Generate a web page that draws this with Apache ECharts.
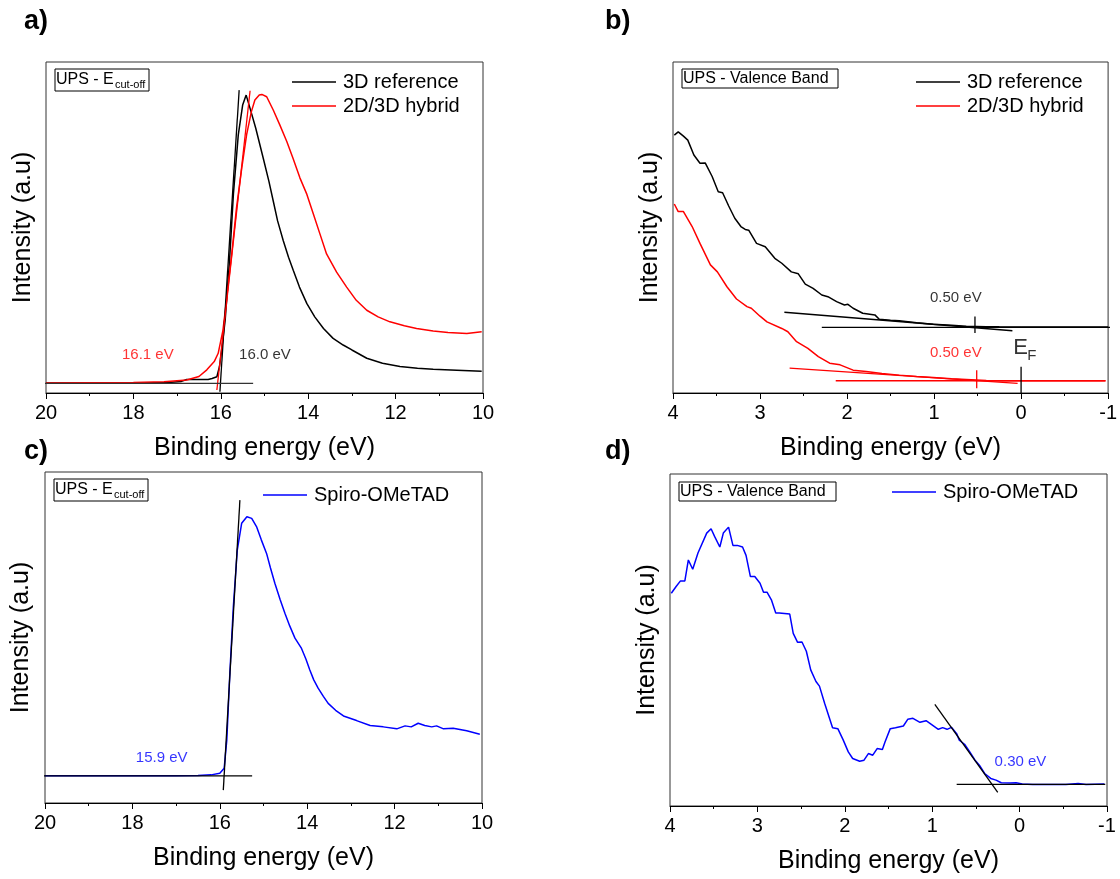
<!DOCTYPE html>
<html><head><meta charset="utf-8">
<script src="https://cdn.jsdelivr.net/npm/echarts@6/dist/echarts.min.js"></script>
<style>html,body{margin:0;padding:0;background:#fff}#c{width:1120px;height:879px}</style>
</head><body><div id="c"></div><script>
// ---------- data (binding energy eV, intensity a.u. 0-100) ----------
const aRef = [[20,3.0],[19,3.0],[18,3.1],[17.2,3.2],[16.9,3.5],[16.78,4.1],[16.5,4.1],[16.29,4.1],[16.2,4.4],[16.09,4.9],[16.03,8],[15.98,13],[15.9,22],[15.8,40],[15.71,60.4],[15.6,78],[15.5,87],[15.42,90],[15.33,86],[15.2,80],[15.03,71],[14.9,64],[14.8,58],[14.7,52],[14.57,46],[14.45,41],[14.34,37],[14.2,32],[14.03,27],[13.85,23],[13.65,19.5],[13.43,16.5],[13.2,14.5],[13.0,13],[12.66,10.5],[12.3,9],[11.9,8],[11.5,7.5],[11.14,7.2],[10.6,6.9],[10.03,6.6]];
const aHyb = [[20,3.0],[19,3.1],[18,3.2],[17.3,3.4],[16.78,3.9],[16.5,5.0],[16.32,7.0],[16.15,9.5],[16.06,12],[15.95,19],[15.87,28],[15.75,42],[15.64,56],[15.52,68],[15.41,78],[15.3,85],[15.22,88.5],[15.12,90],[15.06,90.2],[14.95,89.5],[14.8,85.5],[14.65,81],[14.49,76],[14.35,71],[14.19,65],[14.03,60],[13.88,54],[13.73,48],[13.58,42],[13.35,36.5],[13.12,32],[12.9,28],[12.66,25],[12.4,23],[12.13,21.5],[11.8,20.3],[11.52,19.5],[11.14,18.7],[10.8,18.3],[10.37,18.0],[10.03,18.5]];
const aRefTangent = [[15.58,91.5],[16.02,0.4]];
const aHybTangent = [[15.33,91.3],[16.09,0.9]];
const aBaseline = [[20.07,2.9],[15.26,2.9]];

const bRef = [[3.985,77.9],[3.94,78.9],[3.88,77.6],[3.83,76.4],[3.76,71.9],[3.69,69.4],[3.63,69.5],[3.55,65.4],[3.48,60.8],[3.43,60.5],[3.36,56.5],[3.29,52.8],[3.22,50.3],[3.17,49.4],[3.13,49.2],[3.04,45.2],[2.94,44.2],[2.83,40.7],[2.75,39.2],[2.64,36.6],[2.56,36.0],[2.48,32.9],[2.39,31.6],[2.29,29.6],[2.22,29.1],[2.12,27.6],[2.03,26.6],[1.99,26.8],[1.93,25.6],[1.82,24.1],[1.68,23.6],[1.63,22.3],[1.5,22.0],[1.40,21.8],[1.2,21.2],[1.01,20.8],[0.8,20.5],[0.63,20.2],[0.4,20.05],[0.25,20.0],[0,19.95],[-0.5,19.95],[-1.0,19.95]];
const bHyb = [[3.985,57.1],[3.94,54.8],[3.88,54.8],[3.78,50.3],[3.69,45.2],[3.57,38.7],[3.49,36.6],[3.38,32.1],[3.27,28.4],[3.15,26.1],[3.10,25.6],[3.0,23.2],[2.92,21.5],[2.75,19.5],[2.68,18.5],[2.58,15.5],[2.45,13.5],[2.33,11.0],[2.2,9.0],[2.08,8.5],[1.93,6.9],[1.78,6.5],[1.6,5.9],[1.4,5.4],[1.2,5.0],[1.01,4.7],[0.8,4.3],[0.63,4.1],[0.4,3.8],[0.25,3.7],[0,3.7],[-0.5,3.7],[-0.97,3.7]];
const bRefTangent = [[2.72,24.4],[0.10,18.8]];
const bRefBaseline = [[2.29,19.8],[-1.05,19.8]];
const bRefMarker = [[0.53,23.1],[0.53,18.1]];
const bHybTangent = [[2.66,7.5],[0.04,2.9]];
const bHybBaseline = [[2.13,3.7],[-0.97,3.7]];
const bHybMarker = [[0.51,6.9],[0.51,1.4]];
const bFermi = [[0,7.9],[0,0]];

const cSpiro = [[20,8.2],[19,8.2],[18,8.2],[17,8.2],[16.5,8.3],[16.2,8.5],[16.0,9.0],[15.9,10.5],[15.84,19],[15.77,39.2],[15.69,59.3],[15.6,76.4],[15.5,84.5],[15.38,86.5],[15.27,86.0],[15.16,83.5],[15.05,79.5],[14.93,75.4],[14.84,71],[14.74,66.4],[14.62,61.5],[14.51,57.3],[14.4,53.5],[14.28,49.8],[14.13,46.7],[14.03,43.5],[13.94,40.2],[13.85,37.2],[13.75,34.7],[13.63,32.2],[13.52,30.1],[13.35,28],[13.17,26.3],[12.87,24.9],[12.56,23.4],[12.26,23.0],[11.95,22.4],[11.76,23.3],[11.62,23.0],[11.46,24.1],[11.31,23.4],[11.15,23.0],[11.04,23.3],[10.88,22.4],[10.66,22.6],[10.35,21.8],[10.05,20.8]];
const cTangent = [[15.54,91.5],[15.92,3.9]];
const cBaseline = [[20.07,8.2],[15.26,8.2]];

const dSpiro = [[3.985,64.1],[3.93,66.1],[3.88,67.8],[3.83,67.8],[3.79,74.1],[3.74,71.3],[3.68,76.2],[3.58,82.2],[3.53,83.5],[3.49,81.2],[3.43,78.0],[3.39,82.2],[3.33,84.0],[3.28,78.5],[3.23,78.5],[3.17,78.0],[3.13,75.5],[3.08,69.1],[3.03,69.1],[2.97,67.1],[2.93,64.4],[2.89,64.4],[2.84,62.1],[2.79,58.1],[2.75,58.1],[2.63,57.8],[2.59,52.0],[2.54,49.3],[2.49,49.4],[2.44,46.6],[2.39,41.0],[2.33,37.5],[2.29,36.1],[2.23,30.9],[2.14,23.6],[2.08,23.3],[2.02,20.0],[1.96,16.3],[1.91,14.3],[1.83,13.5],[1.78,13.8],[1.73,15.8],[1.68,15.3],[1.63,17.3],[1.57,17.0],[1.54,19.3],[1.48,23.3],[1.42,23.6],[1.33,24.1],[1.28,26.1],[1.22,26.4],[1.14,25.2],[1.07,25.7],[1.01,24.6],[0.93,23.1],[0.88,23.6],[0.83,23.1],[0.78,23.7],[0.72,21.8],[0.69,19.8],[0.63,18.6],[0.57,16.3],[0.51,13.8],[0.46,12.3],[0.40,9.8],[0.33,8.3],[0.27,7.8],[0.21,7.0],[0.11,6.9],[0.04,7.0],[-0.03,6.6],[-0.15,6.5],[-0.34,6.5],[-0.53,6.5],[-0.67,6.8],[-0.76,6.5],[-0.97,6.6]];
const dTangent = [[0.97,30.6],[0.25,4.1]];
const dBaseline = [[0.72,6.5],[-0.98,6.5]];

const xTicksCutoff = {min:10, max:20, interval:2};
const xTicksVB = {min:-1, max:4, interval:1};

// annotation texts: [x, y, text]
const aNotes = [[17.67,11.5,'16.1 eV','#ff0000'],[14.99,11.5,'16.0 eV','#000000']];
const bNotes = [[0.75,28.8,'0.50 eV','#000000'],[0.75,12.2,'0.50 eV','#ff0000']];
const cNotes = [[17.33,13.7,'15.9 eV','#0000ff']];
const dNotes = [[-0.01,13.4,'0.30 eV','#0000ff']];
const fermiLabel = [[0.09,13.6,'E'],[-0.07,11.2,'F']];

// ---------- chart ----------
const FF = '"Liberation Sans", Arial, sans-serif';
const RED = '#ff0000', BLK = '#000000', BLU = '#0000ff';
const grids = [
  {left:46, top:62, width:437, height:331},
  {left:673, top:62, width:436, height:331},
  {left:45, top:472, width:437, height:331},
  {left:670, top:474, width:437, height:332}
].map(g => Object.assign({show:true, borderColor:'#333', borderWidth:1, backgroundColor:'transparent', containLabel:false}, g));

function xAx(gi, t, gap) {
  return {type:'value', gridIndex:gi, min:t.min, max:t.max, interval:t.interval, inverse:true,
    name:'Binding energy (eV)', nameLocation:'middle', nameGap:gap,
    nameTextStyle:{fontSize:25, color:'#000', fontFamily:FF},
    axisLine:{show:true, onZero:false, lineStyle:{color:'#000', width:1}},
    axisTick:{show:true, inside:false, length:6, lineStyle:{color:'#000'}},
    minorTick:{show:true, splitNumber:2, length:3, lineStyle:{color:'#000'}},
    axisLabel:{fontSize:20, color:'#000', margin:10, fontFamily:FF},
    splitLine:{show:false}, minorSplitLine:{show:false}};
}
function yAx(gi, gap) {
  return {type:'value', gridIndex:gi, min:0, max:100,
    name:'Intensity (a.u)', nameLocation:'middle', nameGap:gap,
    nameTextStyle:{fontSize:25, color:'#000', fontFamily:FF},
    axisLine:{show:false, onZero:false}, axisTick:{show:false}, axisLabel:{show:false}, splitLine:{show:false}};
}
function curve(name, gi, data, color) {
  return {type:'line', name:name, xAxisIndex:gi, yAxisIndex:gi, data:data, symbol:'none', showSymbol:false,
    lineStyle:{color:color, width:1.5}, itemStyle:{color:color}, animation:false, silent:true};
}
function guide(gi, data, color) {
  return {type:'line', xAxisIndex:gi, yAxisIndex:gi, data:data, symbol:'none', showSymbol:false, clip:false,
    lineStyle:{color:color, width:1.3}, itemStyle:{color:color}, animation:false, silent:true, z:3};
}
function notes(gi, arr, size) {
  return {type:'scatter', xAxisIndex:gi, yAxisIndex:gi, symbolSize:1, itemStyle:{color:'transparent'}, silent:true, animation:false,
    data: arr.map(n => ({value:[n[0], n[1]], label:{show:true, position:'inside', formatter:n[2], color:n[3], fontSize:size || 15, fontFamily:FF}}))};
}

const series = [
  curve('3D reference', 0, aRef, BLK), curve('2D/3D hybrid', 0, aHyb, RED),
  guide(0, aRefTangent, BLK), guide(0, aHybTangent, RED), guide(0, aBaseline, '#333'),
  notes(0, aNotes),
  curve('3D reference', 1, bRef, BLK), curve('2D/3D hybrid', 1, bHyb, RED),
  guide(1, bRefTangent, BLK), guide(1, bRefBaseline, BLK), guide(1, bRefMarker, BLK),
  guide(1, bHybTangent, RED), guide(1, bHybBaseline, RED), guide(1, bHybMarker, RED), guide(1, bFermi, BLK),
  notes(1, bNotes),
  {type:'scatter', xAxisIndex:1, yAxisIndex:1, symbolSize:1, itemStyle:{color:'transparent'}, silent:true, animation:false,
   data: fermiLabel.map((n, i) => ({value:[n[0], n[1]], label:{show:true, position:'inside', align:'left', formatter:n[2], color:'#000', fontSize: i === 0 ? 22 : 15, fontFamily:FF}}))},
  curve('Spiro-OMeTAD', 2, cSpiro, BLU),
  guide(2, cTangent, BLK), guide(2, cBaseline, BLK),
  notes(2, cNotes),
  curve('Spiro-OMeTAD', 3, dSpiro, BLU),
  guide(3, dTangent, BLK), guide(3, dBaseline, BLK),
  notes(3, dNotes)
];

function legend(left, top, names) {
  return {show:true, left:left, top:top, orient:'vertical', data:names, selectedMode:false,
    icon:'rect', itemWidth:44, itemHeight:1.5, itemGap:4,
    textStyle:{fontSize:20, color:'#000', fontFamily:FF, padding:[0,0,0,2]}};
}

function box(x, y, w, h, main, sub) {
  const els = [{type:'rect', shape:{x:x, y:y, width:w, height:h}, style:{fill:'none', stroke:'#000', lineWidth:1}, z:10},
    {type:'text', x:x+1, y:y+h/2, style:{text:main, fontSize:16, fontFamily:FF, fill:'#000', textVerticalAlign:'middle', verticalAlign:'middle'}, z:10}];
  if (sub) els.push({type:'text', x:x+60, y:y+h/2+5, style:{text:sub, fontSize:11, fontFamily:FF, fill:'#000', textVerticalAlign:'middle', verticalAlign:'middle'}, z:10});
  return els;
}
function panelLabel(x, y, t) {
  return {type:'text', x:x, y:y, style:{text:t, fontSize:27, fontWeight:'bold', fontFamily:FF, fill:'#000', textVerticalAlign:'middle', verticalAlign:'middle'}};
}

const option = {
  backgroundColor:'#fff',
  animation:false,
  grid: grids,
  xAxis: [xAx(0, xTicksCutoff, 43), xAx(1, xTicksVB, 43), xAx(2, xTicksCutoff, 43), xAx(3, xTicksVB, 43)],
  yAxis: [yAx(0, 10), yAx(1, 10), yAx(2, 11), yAx(3, 10)],
  legend: [legend(287, 67, ['3D reference', '2D/3D hybrid']), legend(911, 67, ['3D reference', '2D/3D hybrid']),
           legend(258, 480, ['Spiro-OMeTAD']), legend(887, 477, ['Spiro-OMeTAD'])],
  series: series,
  graphic: [].concat(
    box(55, 69, 94, 22, 'UPS - E', 'cut-off'),
    box(682, 69, 156, 19, 'UPS - Valence Band'),
    box(54, 479, 94, 22, 'UPS - E', 'cut-off'),
    box(679, 482, 157, 19, 'UPS - Valence Band'),
    [panelLabel(24, 22, 'a)'), panelLabel(605, 22, 'b)'), panelLabel(24, 452, 'c)'), panelLabel(605, 452, 'd)')]
  )
};
const chart = echarts.init(document.getElementById('c'), null, {renderer:'canvas'});
chart.setOption(option);
</script></body></html>
